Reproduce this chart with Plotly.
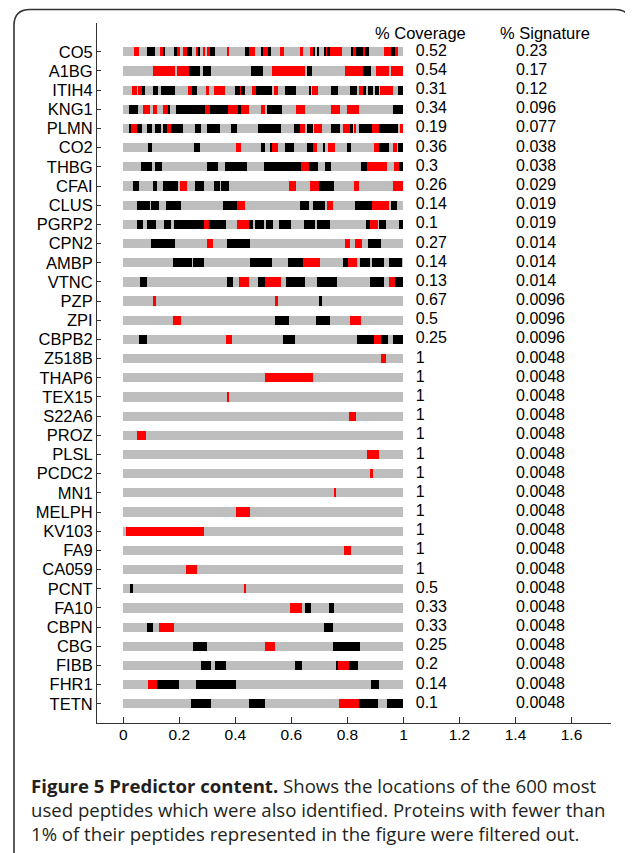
import plotly.graph_objects as go

proteins = ["CO5", "A1BG", "ITIH4", "KNG1", "PLMN", "CO2", "THBG", "CFAI", "CLUS", "PGRP2",
            "CPN2", "AMBP", "VTNC", "PZP", "ZPI", "CBPB2", "Z518B", "THAP6", "TEX15", "S22A6",
            "PROZ", "PLSL", "PCDC2", "MN1", "MELPH", "KV103", "FA9", "CA059", "PCNT", "FA10",
            "CBPN", "CBG", "FIBB", "FHR1", "TETN"]

coverage = [0.52, 0.54, 0.31, 0.34, 0.19, 0.36, 0.3, 0.26, 0.14, 0.1,
            0.27, 0.14, 0.13, 0.67, 0.5, 0.25, 1, 1, 1, 1,
            1, 1, 1, 1, 1, 1, 1, 1, 0.5, 0.33,
            0.33, 0.25, 0.2, 0.14, 0.1]

signature = [0.23, 0.17, 0.12, 0.096, 0.077, 0.038, 0.038, 0.029, 0.019, 0.019,
             0.014, 0.014, 0.014, 0.0096, 0.0096, 0.0096, 0.0048, 0.0048, 0.0048, 0.0048,
             0.0048, 0.0048, 0.0048, 0.0048, 0.0048, 0.0048, 0.0048, 0.0048, 0.0048, 0.0048,
             0.0048, 0.0048, 0.0048, 0.0048, 0.0048]

# red segments (start, end) per protein, relative position along protein
red_segments = [
    [[0.038, 0.057], [0.131, 0.145], [0.19, 0.202], [0.212, 0.226], [0.26, 0.269], [0.283, 0.293],
     [0.298, 0.31], [0.371, 0.379], [0.45, 0.469], [0.50, 0.515], [0.56, 0.572], [0.633, 0.64],
     [0.667, 0.679], [0.724, 0.73], [0.737, 0.78], [0.819, 0.829], [0.857, 0.864], [0.929, 0.955],
     [0.969, 0.981]],
    [[0.107, 0.186], [0.19, 0.236], [0.529, 0.648], [0.79, 0.857], [0.902, 0.95], [0.955, 1.0]],
    [[0.031, 0.048], [0.053, 0.066], [0.232, 0.244], [0.294, 0.305], [0.324, 0.364], [0.414, 0.42],
     [0.459, 0.472], [0.537, 0.553], [0.672, 0.694], [0.842, 0.856], [0.915, 0.962]],
    [[0.069, 0.095], [0.105, 0.119], [0.143, 0.16], [0.29, 0.31], [0.374, 0.41], [0.421, 0.45],
     [0.49, 0.505], [0.617, 0.65], [0.743, 0.772], [0.797, 0.843]],
    [[0.029, 0.05], [0.157, 0.171], [0.631, 0.648], [0.679, 0.71], [0.784, 0.81], [0.822, 0.83],
     [0.888, 0.898], [0.9, 0.912], [0.986, 0.998]],
    [[0.404, 0.419], [0.531, 0.552], [0.676, 0.693], [0.729, 0.755], [0.895, 0.914], [0.964, 0.976]],
    [[0.636, 0.662], [0.869, 0.94], [0.967, 0.983]],
    [[0.202, 0.229], [0.592, 0.617], [0.667, 0.698], [0.824, 0.843], [0.961, 1.0]],
    [[0.407, 0.436], [0.726, 0.75], [0.888, 0.948]],
    [[0.288, 0.307], [0.407, 0.448], [0.881, 0.91]],
    [[0.3, 0.319], [0.79, 0.81], [0.826, 0.852]],
    [[0.643, 0.702], [0.802, 0.833]],
    [[0.414, 0.448], [0.507, 0.564], [0.948, 0.969]],
    [[0.107, 0.117], [0.545, 0.552]],
    [[0.176, 0.205], [0.81, 0.848]],
    [[0.367, 0.388], [0.895, 0.919]],
    [[0.920, 0.937]],
    [[0.504, 0.676]],
    [[0.370, 0.379]],
    [[0.806, 0.830]],
    [[0.050, 0.081]],
    [[0.869, 0.912]],
    [[0.879, 0.890]],
    [[0.754, 0.761]],
    [[0.401, 0.451]],
    [[0.010, 0.288]],
    [[0.789, 0.811]],
    [[0.223, 0.264]],
    [[0.431, 0.437]],
    [[0.596, 0.637]],
    [[0.129, 0.181]],
    [[0.507, 0.54]],
    [[0.767, 0.805]],
    [[0.087, 0.121]],
    [[0.769, 0.843]],
]

# black segments (start, end) per protein
black_segments = [
    [[0.086, 0.114], [0.145, 0.15], [0.184, 0.19], [0.226, 0.245], [0.269, 0.274], [0.31, 0.326],
     [0.433, 0.45], [0.493, 0.50], [0.515, 0.527], [0.679, 0.683], [0.69, 0.698], [0.718, 0.724],
     [0.73, 0.737], [0.814, 0.819], [0.829, 0.857], [0.864, 0.876], [0.955, 0.969]],
    [[0.236, 0.274], [0.286, 0.312], [0.457, 0.497], [0.657, 0.674], [0.857, 0.883]],
    [[0.066, 0.078], [0.105, 0.123], [0.133, 0.186], [0.244, 0.262], [0.40, 0.415], [0.421, 0.434],
     [0.472, 0.53], [0.577, 0.617], [0.663, 0.671], [0.74, 0.766], [0.808, 0.835], [0.857, 0.866],
     [0.874, 0.891], [0.9, 0.912], [0.981, 1.0]],
    [[0.022, 0.053], [0.16, 0.167], [0.188, 0.29], [0.31, 0.374], [0.41, 0.419], [0.512, 0.567],
     [0.962, 1.0]],
    [[0.022, 0.029], [0.05, 0.067], [0.086, 0.102], [0.112, 0.133], [0.143, 0.157], [0.171, 0.214],
     [0.257, 0.276], [0.298, 0.345], [0.383, 0.405], [0.481, 0.562], [0.61, 0.629], [0.657, 0.676],
     [0.74, 0.774], [0.81, 0.82], [0.84, 0.888], [0.912, 0.981]],
    [[0.089, 0.104], [0.252, 0.274], [0.49, 0.505], [0.523, 0.531], [0.577, 0.61], [0.657, 0.676],
     [0.712, 0.721], [0.799, 0.813], [0.914, 0.948], [0.981, 1.0]],
    [[0.064, 0.102], [0.113, 0.138], [0.299, 0.338], [0.364, 0.443], [0.501, 0.636], [0.662, 0.695],
     [0.721, 0.743], [0.85, 0.869], [0.983, 1.0]],
    [[0.033, 0.057], [0.107, 0.121], [0.14, 0.195], [0.255, 0.288], [0.324, 0.345], [0.348, 0.379],
     [0.698, 0.752]],
    [[0.05, 0.095], [0.1, 0.126], [0.152, 0.205], [0.355, 0.407], [0.63, 0.664], [0.676, 0.721],
     [0.826, 0.888], [0.955, 0.976]],
    [[0.05, 0.071], [0.083, 0.117], [0.144, 0.169], [0.181, 0.288], [0.307, 0.367], [0.448, 0.462],
     [0.471, 0.502], [0.51, 0.536], [0.555, 0.598], [0.644, 0.683], [0.69, 0.738], [0.867, 0.881],
     [0.912, 0.938], [0.983, 1.0]],
    [[0.098, 0.183], [0.369, 0.452], [0.874, 0.919]],
    [[0.179, 0.245], [0.25, 0.288], [0.452, 0.529], [0.587, 0.643], [0.783, 0.802], [0.845, 0.881],
     [0.886, 0.929], [0.95, 0.995]],
    [[0.06, 0.083], [0.371, 0.393], [0.481, 0.507], [0.579, 0.65], [0.69, 0.762], [0.879, 0.929],
     [0.969, 1.0]],
    [[0.7, 0.71]],
    [[0.543, 0.59], [0.688, 0.738]],
    [[0.055, 0.086], [0.571, 0.612], [0.833, 0.895], [0.919, 0.945], [0.962, 0.998]],
    [], [], [], [], [], [], [], [], [], [], [], [],
    [[0.024, 0.033]],
    [[0.648, 0.671], [0.733, 0.752]],
    [[0.085, 0.107], [0.717, 0.75]],
    [[0.25, 0.298], [0.748, 0.845]],
    [[0.279, 0.314], [0.329, 0.367], [0.612, 0.639], [0.762, 0.767], [0.805, 0.836]],
    [[0.121, 0.198], [0.261, 0.402], [0.883, 0.914]],
    [[0.242, 0.314], [0.448, 0.505], [0.843, 0.91], [0.943, 1.0]],
]

x_ticks = [0, 0.2, 0.4, 0.6, 0.8, 1, 1.2, 1.4, 1.6]
header_cov = "% Coverage"
header_sig = "% Signature"
caption_bold = "Figure 5 Predictor content."
caption_rest = ["Shows the locations of the 600 most",
                "used peptides which were also identified. Proteins with fewer than",
                "1% of their peptides represented in the figure were filtered out."]

# ---------- layout constants (page pixels; page body has an 8px offset) ----------
OFF = 8
W, H = 633 - OFF, 853 - OFF
ML, MR, MT, MB = 97 - OFF, 22, 23 - OFF, 130
PW, PH = W - ML - MR, H - MT - MB

def px_x(px):
    return (px - OFF - ML) / PW

def px_y(py):
    return 1 - (py - OFF - MT) / PH

GRAY = "#BEBEBE"
RED = "#FF0000"
BLACK = "#000000"
BAR_W = 0.48
FONT = "Liberation Sans, Arial, sans-serif"

rows = list(range(len(proteins)))
fig = go.Figure()

fig.add_trace(go.Bar(y=rows, x=[1.0] * len(rows), base=[0.0] * len(rows), orientation="h",
                     width=BAR_W, marker=dict(color=GRAY, line=dict(width=0)),
                     hoverinfo="skip", showlegend=False))

def seg_trace(segs, color):
    ys, bs, ls = [], [], []
    for i, lst in enumerate(segs):
        for s, e in lst:
            ys.append(i)
            bs.append(s)
            ls.append(e - s)
    return go.Bar(y=ys, x=ls, base=bs, orientation="h", width=BAR_W,
                  marker=dict(color=color, line=dict(width=0)),
                  hoverinfo="skip", showlegend=False)

fig.add_trace(seg_trace(red_segments, RED))
fig.add_trace(seg_trace(black_segments, BLACK))

COV_X = 1.044
SIG_X = 1.402
fig.add_trace(go.Scatter(x=[COV_X] * len(rows), y=rows, mode="text",
                         text=[f"{v:g}" for v in coverage], textposition="middle right",
                         textfont=dict(family=FONT, size=16, color="black"),
                         hoverinfo="skip", showlegend=False))
fig.add_trace(go.Scatter(x=[SIG_X] * len(rows), y=rows, mode="text",
                         text=[f"{v:g}" for v in signature], textposition="middle right",
                         textfont=dict(family=FONT, size=16, color="black"),
                         hoverinfo="skip", showlegend=False))

fig.add_annotation(x=0.89, y=-1, xref="x", yref="y", text=header_cov, showarrow=False,
                   xanchor="left", yanchor="middle", font=dict(family=FONT, size=16.5, color="black"))
fig.add_annotation(x=1.337, y=-1, xref="x", yref="y", text=header_sig, showarrow=False,
                   xanchor="left", yanchor="middle", font=dict(family=FONT, size=16.5, color="black"))

caption = ("<b>" + caption_bold + "</b> " + caption_rest[0] + "<br>" +
           caption_rest[1] + "<br>" + caption_rest[2])
fig.add_annotation(x=px_x(29), y=px_y(771), xref="paper", yref="paper", text=caption,
                   showarrow=False, xanchor="left", yanchor="top", align="left",
                   font=dict(family="Open Sans, sans-serif", size=18.6, color="#231f20"))

# rounded outer frame
x0, x1 = px_x(14), px_x(631)
y0, y1 = px_y(9.5), px_y(900)
rx, ry = 16 / PW, 16 / PH
path = (f"M {x0},{y1} L {x0},{y0 - ry} Q {x0},{y0} {x0 + rx},{y0} "
        f"L {x1 - rx},{y0} Q {x1},{y0} {x1},{y0 - ry} L {x1},{y1}")
fig.add_shape(type="path", path=path, xref="paper", yref="paper",
              line=dict(color="#333333", width=1.6))

fig.update_layout(
    width=W, height=H,
    margin=dict(l=ML, r=MR, t=MT, b=MB, pad=0),
    paper_bgcolor="white", plot_bgcolor="white",
    barmode="overlay", bargap=0,
    xaxis=dict(range=[-0.094, 1.741], tickvals=x_ticks, ticktext=[f"{t:g}" for t in x_ticks],
               ticks="inside", ticklen=6, tickcolor="#333333", showline=True, linecolor="#333333",
               linewidth=1, showgrid=False, zeroline=False, automargin=False,
               ticklabelstandoff=-3,
               tickfont=dict(family=FONT, size=15.5, color="black")),
    yaxis=dict(range=[35.0, -1.5], tickvals=rows, ticktext=proteins, ticks="inside", ticklen=4,
               tickcolor="#333333", showline=True, linecolor="#333333", linewidth=1,
               showgrid=False, zeroline=False, automargin=False,
               tickfont=dict(family=FONT, size=16.5, color="black")),
)

fig.write_html("out.html")
